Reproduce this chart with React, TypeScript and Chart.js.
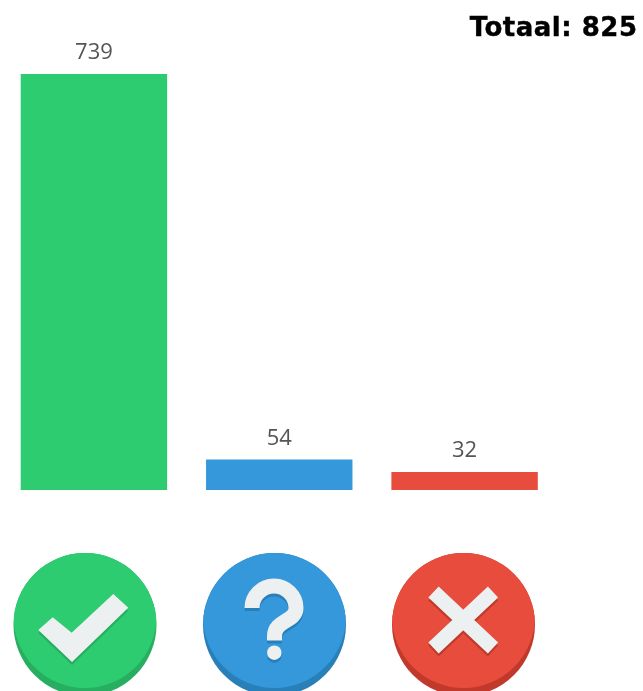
import React, { useEffect, useRef } from "react";
import { Chart, registerables } from "chart.js";

Chart.register(...registerables);

const categories = ["Ja", "Misschien", "Nee"];
const values = [739, 54, 32];
const barColors = ["#2ecc71", "#3498db", "#e74c3c"];
const faceDark = ["#27ae60", "#2980b9", "#c0392b"];
const iconX = [85, 274.5, 463.5];
const totalLabel = "Totaal: 825";

type Ctx = CanvasRenderingContext2D;

function drawCheck(c: Ctx, dy: number) {
  c.beginPath();
  c.moveTo(38.3, 630 + dy);
  c.lineTo(52.7, 617.3 + dy);
  c.lineTo(71.7, 632.7 + dy);
  c.lineTo(113.3, 594 + dy);
  c.lineTo(128.3, 607.7 + dy);
  c.lineTo(72, 662 + dy);
  c.closePath();
  c.fill();
}

function drawQuestion(c: Ctx, dy: number) {
  c.lineWidth = 15;
  c.lineCap = "butt";
  c.beginPath();
  c.arc(274, 608 + dy, 22, Math.PI, 0);
  c.bezierCurveTo(296, 622 + dy, 274.5, 620 + dy, 274.5, 636 + dy);
  c.lineTo(274.5, 640.5 + dy);
  c.stroke();
  c.beginPath();
  c.arc(274.3, 652.7 + dy, 7.2, 0, Math.PI * 2);
  c.fill();
}

function drawCross(c: Ctx, dy: number) {
  c.lineWidth = 15;
  c.lineCap = "butt";
  c.beginPath();
  c.moveTo(433.5, 592 + dy);
  c.lineTo(493, 648 + dy);
  c.moveTo(493, 592 + dy);
  c.lineTo(433.5, 648 + dy);
  c.stroke();
}

const glyphs = [drawCheck, drawQuestion, drawCross];

const decorations = {
  id: "decorations",
  afterDraw(chart: Chart) {
    const c = chart.ctx as Ctx;
    const meta = chart.getDatasetMeta(0);
    c.save();
    c.textBaseline = "alphabetic";
    c.textAlign = "center";
    c.font = `22px "Open Sans"`;
    c.fillStyle = "#555555";
    values.forEach((v, i) => {
      const el = meta.data[i] as any;
      c.fillText(String(v), el.x, el.y - 15);
    });
    c.textAlign = "right";
    c.font = `bold 26px "DejaVu Sans"`;
    (c as any).letterSpacing = "0.5px";
    c.fillStyle = "#000000";
    c.strokeStyle = "#000000";
    c.lineWidth = 0.4;
    c.fillText(totalLabel, 637.5, 36);
    c.strokeText(totalLabel, 637.5, 36);
    (c as any).letterSpacing = "0px";

    iconX.forEach((cx, i) => {
      const cy = 624.5;
      const r = 71.5;
      c.save();
      c.beginPath();
      c.arc(cx, cy, r, 0, Math.PI * 2);
      c.fillStyle = faceDark[i];
      c.fill();
      c.clip();
      c.beginPath();
      c.arc(cx, cy - 8, r, 0, Math.PI * 2);
      c.fillStyle = barColors[i];
      c.fill();
      c.restore();
      c.fillStyle = faceDark[i];
      c.strokeStyle = faceDark[i];
      glyphs[i](c, 3);
      c.fillStyle = "#ecf0f1";
      c.strokeStyle = "#ecf0f1";
      glyphs[i](c, 0);
    });
    c.restore();
  },
};

export default function App() {
  const ref = useRef<HTMLCanvasElement>(null);
  useEffect(() => {
    const chart = new Chart(ref.current!, {
      type: "bar",
      data: {
        labels: categories,
        datasets: [
          {
            data: values,
            backgroundColor: barColors,
            borderWidth: 0,
            categoryPercentage: 0.79,
            barPercentage: 1,
          },
        ],
      },
      options: {
        animation: false,
        responsive: false,
        layout: { padding: { left: 1.25, right: 85.75, top: 74, bottom: 201 } },
        plugins: { legend: { display: false }, tooltip: { enabled: false } },
        scales: {
          x: { display: false },
          y: { display: false, min: 0, max: 739 },
        },
      },
      plugins: [decorations],
    });
    return () => chart.destroy();
  }, []);
  return (
    <div style={{ position: "absolute", left: 0, top: 0, width: 643, height: 691, overflow: "hidden", background: "#fff" }}>
      <canvas ref={ref} width={643} height={691} style={{ display: "block", filter: "blur(0.5px)" }} />
    </div>
  );
}
